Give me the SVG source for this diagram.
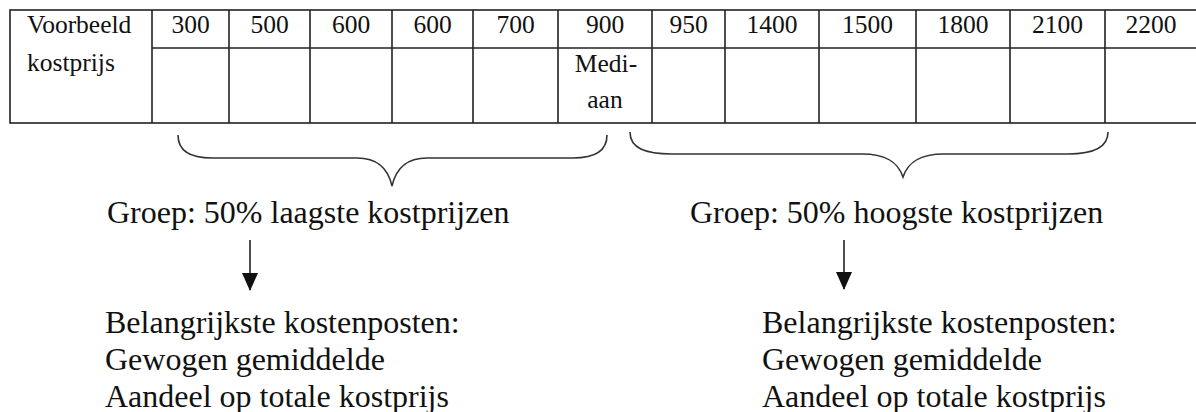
<svg xmlns="http://www.w3.org/2000/svg" width="1196" height="412" viewBox="0 0 1196 412">
<defs>
<style>
.t{font-family:"Liberation Serif","Times New Roman",serif;fill:#111;}
.tb{font-size:25.5px;}
.lb{font-size:32px;}
.c{text-anchor:middle;}
.grid{stroke:#222;stroke-width:1.6;fill:none;}
.brace{stroke:#333;stroke-width:1.6;fill:none;}
.arr{stroke:#222;stroke-width:1.6;fill:none;}
</style>
<marker id="ah" viewBox="0 0 18 16" refX="17" refY="8" markerWidth="18" markerHeight="16" markerUnits="userSpaceOnUse" orient="auto">
<path d="M0,0 L18,8 L0,16 Z" fill="#111"/>
</marker>
</defs>
<rect width="1196" height="412" fill="#fff"/>
<g id="table">
<rect class="grid" x="10" y="10" width="1187" height="113"/>
<path class="grid" d="M152,48 H1197 M152,10 V123 M229,10 V123 M310,10 V123 M392,10 V123 M473,10 V123 M558,10 V123 M652,10 V123 M725,10 V123 M819,10 V123 M916,10 V123 M1010,10 V123 M1105,10 V123"/>
<text class="t tb" x="27" y="33">Voorbeeld</text>
<text class="t tb" x="27" y="71">kostprijs</text>
<g class="t tb c">
<text x="190.5" y="33">300</text>
<text x="269.5" y="33">500</text>
<text x="351" y="33">600</text>
<text x="432.5" y="33">600</text>
<text x="515.5" y="33">700</text>
<text x="605" y="33">900</text>
<text x="688.5" y="33">950</text>
<text x="772" y="33">1400</text>
<text x="867.5" y="33">1500</text>
<text x="963" y="33">1800</text>
<text x="1057.5" y="33">2100</text>
<text x="1151" y="33">2200</text>
<text x="606" y="72">Medi-</text>
<text x="605" y="108">aan</text>
</g>
</g>
<g id="connectors">
<path class="brace" d="M178,135 C178,152 192,158 212,158 L357,158 C377,158 388,168 392,186 C396,168 407,158 427,158 L573,158 C593,158 607,152 607,135"/>
<path class="brace" d="M630,132 C630,148 645,154 672,154 L862,154 C886,154 898,162 903,177 C908,162 920,154 944,154 L1068,154 C1093,154 1108,148 1108,132"/>
<line class="arr" x1="250" y1="240" x2="250" y2="290" marker-end="url(#ah)"/>
<line class="arr" x1="844" y1="240" x2="844" y2="289" marker-end="url(#ah)"/>
</g>
<g id="group-low">
<text class="t lb" x="107" y="223">Groep: 50% laagste kostprijzen</text>
</g>
<g id="group-high">
<text class="t lb" x="690" y="223">Groep: 50% hoogste kostprijzen</text>
</g>
<g id="result-low">
<text class="t lb" x="105" y="333">Belangrijkste kostenposten:</text>
<text class="t lb" x="105" y="370">Gewogen gemiddelde</text>
<text class="t lb" x="105" y="407">Aandeel op totale kostprijs</text>
</g>
<g id="result-high">
<text class="t lb" x="762" y="333">Belangrijkste kostenposten:</text>
<text class="t lb" x="762" y="370">Gewogen gemiddelde</text>
<text class="t lb" x="762" y="407">Aandeel op totale kostprijs</text>
</g>
</svg>
